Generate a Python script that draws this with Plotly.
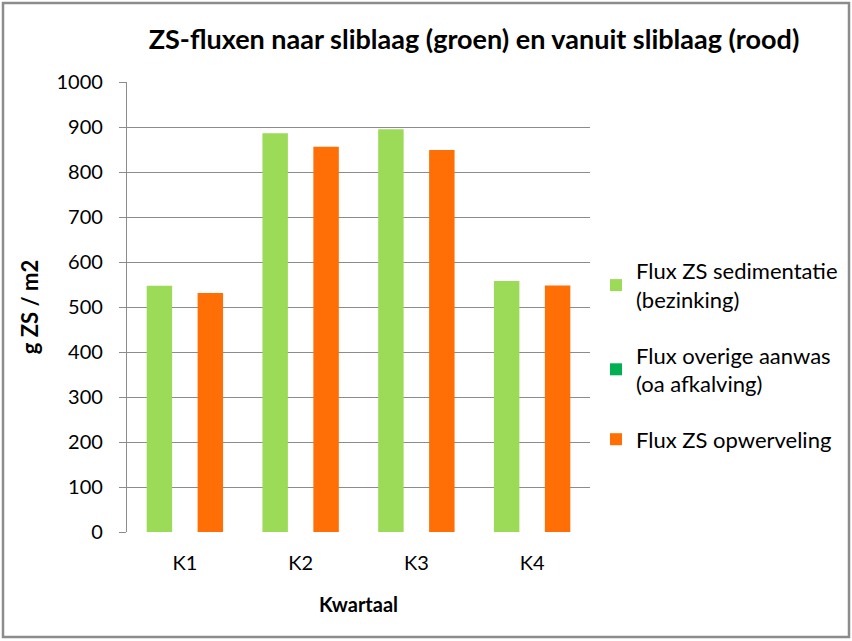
import plotly.graph_objects as go

categories = ["K1", "K2", "K3", "K4"]
sedimentatie = [547, 886, 895, 558]
overige_aanwas = [0, 0, 0, 0]
opwerveling = [531, 856, 849, 548]
y_ticks = [0, 100, 200, 300, 400, 500, 600, 700, 800, 900, 1000]

FONT = "Lato"
fig = go.Figure()
fig.add_trace(go.Bar(x=categories, y=sedimentatie, name="Flux ZS sedimentatie<br>(bezinking)",
                     legendgroup="a", marker=dict(color="#9BDB57", line=dict(width=0))))
fig.add_trace(go.Bar(x=categories, y=overige_aanwas, name="Flux overige aanwas<br>(oa afkalving)",
                     legendgroup="b", marker=dict(color="#00B050", line=dict(width=0))))
fig.add_trace(go.Bar(x=categories, y=opwerveling, name="Flux ZS opwerveling",
                     legendgroup="c", marker=dict(color="#FF6F05", line=dict(width=0))))

L, R, T, B = 127, 262, 82, 109
W, H = 852, 641
pw, ph = W - L - R, H - T - B

fig.update_layout(
    width=W, height=H,
    margin=dict(l=L, r=R, t=T, b=B, autoexpand=False),
    paper_bgcolor="white", plot_bgcolor="white",
    barmode="group", bargap=0.34, bargroupgap=0,
    font=dict(family=FONT, color="#000000", size=20),
    title=dict(text="<b>ZS-fluxen naar sliblaag (groen) en vanuit sliblaag (rood)</b>",
               x=474 / W, xanchor="center", y=1 - 40 / H, yanchor="middle",
               font=dict(size=27, family=FONT)),
    legend=dict(x=(596 - L) / pw, xanchor="left", y=(T + ph - 250) / ph, yanchor="top",
                font=dict(size=22, family=FONT), tracegroupgap=24,
                bgcolor="rgba(0,0,0,0)", itemwidth=30),
    xaxis=dict(title=dict(text="<b>Kwartaal</b>", font=dict(size=20), standoff=24),
               showline=False, ticks="", tickfont=dict(size=20), ticklabelstandoff=17,
               showgrid=False),
    yaxis=dict(title=dict(text="<b>g ZS / m2</b>", font=dict(size=22), standoff=11),
               range=[0, 1000], tickvals=y_ticks, ticktext=[str(v) for v in y_ticks],
               showgrid=True, gridcolor="#8C8C8C", gridwidth=1.3,
               showline=True, linecolor="#8C8C8C", linewidth=1.3,
               ticks="outside", ticklen=7, tickcolor="#8C8C8C",
               tickfont=dict(size=20), ticklabelstandoff=12, zeroline=False),
)

# outer frame around the chart
fig.add_shape(type="rect", xref="paper", yref="paper",
              x0=(3 - L) / pw, x1=(849 - L) / pw,
              y0=-(637 - T - ph) / ph, y1=1 + (T - 3) / ph,
              line=dict(color="#8C8C8C", width=2.5), layer="below")

fig.write_html("out.html")
